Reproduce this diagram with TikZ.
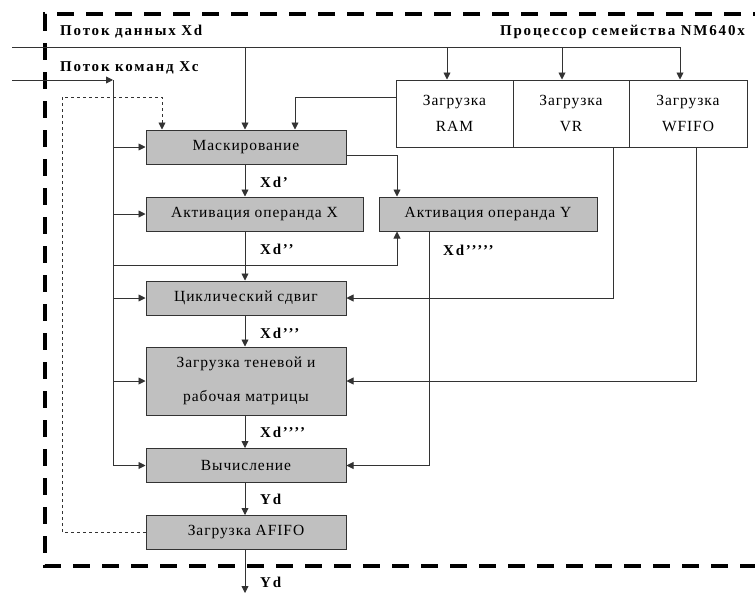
\documentclass[tikz,border=0pt]{standalone}
\usepackage{fontspec}
\setmainfont{Liberation Serif}
\newfontfamily\boxfont[LetterSpace=6]{Liberation Serif}
\newfontfamily\lblfont[LetterSpace=12]{Liberation Serif}
\usetikzlibrary{arrows.meta}
\definecolor{boxgray}{HTML}{C0C0C0}
\definecolor{linegray}{HTML}{333333}
\begin{document}
\begin{tikzpicture}[x=1pt,y=-1pt,
  conn/.style={draw=linegray,line width=0.9pt},
  arr/.style={conn,-{Triangle[length=7pt,width=7pt]}},
  gbox/.style={draw=linegray,fill=boxgray,line width=1pt,minimum width=200pt,minimum height=34pt,inner sep=0pt,font=\boxfont\fontsize{15.5}{16}\selectfont},
  wbox/.style={draw=linegray,fill=white,line width=1pt,minimum height=67pt,inner sep=0pt,align=center,font=\boxfont\fontsize{15.5}{26}\selectfont},
  lbl/.style={font=\lblfont\bfseries\fontsize{15}{16}\selectfont,inner sep=0pt},
  frame/.style={line width=3.5pt,dash pattern=on 17pt off 12pt}]
\useasboundingbox (0,0) rectangle (755,595);
% frame
\draw[frame] (770,14) -- (45,14) -- (45,566) -- (770,566);
% boxes
\node[gbox] (mask) at (246,147) {Маскирование};
\node[gbox,minimum width=217pt] (ax) at (254.5,214) {Активация операнда X};
\node[gbox,minimum width=218pt] (ay) at (488,214) {Активация операнда Y};
\node[gbox] (cyc) at (246,298) {Циклический сдвиг};
\node[gbox,minimum height=68pt,align=center,font=\boxfont\fontsize{15.5}{34}\selectfont] (mat) at (246,381) {Загрузка теневой и\\рабочая матрицы};
\node[gbox] (calc) at (246,465.5) {Вычисление};
\node[gbox] (afifo) at (246,532.5) {Загрузка AFIFO};
\node[wbox,minimum width=117pt] (ram) at (454.5,113.5) {Загрузка\\RAM};
\node[wbox,minimum width=116pt] (vr) at (571,113.5) {Загрузка\\VR};
\node[wbox,minimum width=118pt] (wf) at (688,113.5) {Загрузка\\WFIFO};
% labels
\node[lbl,anchor=west] (tdata) at (60,32) {Поток данных Xd};
\node[lbl,anchor=west] (tcmd) at (60,68) {Поток команд Xc};
\node[lbl,anchor=east] (tproc) at (745,32) {Процессор семейства NM640x};
\node[lbl,anchor=west] (l1) at (260,182) {Xd’};
\node[lbl,anchor=west] (l2) at (260,249) {Xd’’};
\node[lbl,anchor=west] (l3) at (260,333) {Xd’’’};
\node[lbl,anchor=west] (l4) at (260,432) {Xd’’’’};
\node[lbl,anchor=west] (l5) at (443,250) {Xd’’’’’};
\node[lbl,anchor=west] (l6) at (260,499) {Yd};
\node[lbl,anchor=west] (l7) at (260,582) {Yd};
% coordinates
\coordinate (din) at (12,47);
\coordinate (cin) at (12,80);
\coordinate (bus) at (113,80);
\coordinate (dm) at (245,47);
\coordinate (dram) at (447,47);
\coordinate (dvr) at (562,47);
\coordinate (dwf) at (680,47);
\coordinate (out) at (245,593);
% data flow
\draw[conn] (din) -- (dwf);
\draw[arr] (dwf) -- (dwf |- wf.north);
\draw[arr] (dram) -- (dram |- ram.north);
\draw[arr] (dvr) -- (dvr |- vr.north);
\draw[arr] (dm) -- (dm |- mask.north);
% command flow
\draw[arr] (cin) -- (bus);
\draw[arr] (bus) |- (calc.west);
\draw[arr] (bus |- mask.west) -- (mask.west);
\draw[arr] (bus |- ax.west) -- (ax.west);
\draw[arr] (bus |- cyc.west) -- (cyc.west);
\draw[arr] (bus |- mat.west) -- (mat.west);
\coordinate (yb) at (113,265);
\coordinate (yc) at (397,265);
\draw[arr] (yb) -- (yc) -- (yc |- ay.south);
% feedback dashed
\coordinate (fb1) at (62,532.5);
\coordinate (fb2) at (62,97);
\coordinate (fb3) at (162,97);
\draw[arr,dashed] (afifo.west) -- (fb1) -- (fb2) -- (fb3) -- (fb3 |- mask.north);
% RAM to mask
\coordinate (rm) at (295,97);
\draw[arr] (ram.west |- rm) -- (rm) -- (rm |- mask.north);
% mask to Y
\coordinate (my) at (397,155);
\draw[arr] (mask.east |- my) -- (my) -- (my |- ay.north);
% VR to cyc
\coordinate (vrx) at (613,147);
\draw[arr] (vrx |- vr.south) |- (cyc.east);
% WFIFO to mat
\coordinate (wfx) at (696,147);
\draw[arr] (wfx |- wf.south) |- (mat.east);
% Y to calc
\coordinate (ayx) at (429,231);
\draw[arr] (ayx |- ay.south) |- (calc.east);
% main flow
\draw[arr] (dm |- mask.south) -- (dm |- ax.north);
\draw[arr] (dm |- ax.south) -- (dm |- cyc.north);
\draw[arr] (dm |- cyc.south) -- (dm |- mat.north);
\draw[arr] (dm |- mat.south) -- (dm |- calc.north);
\draw[arr] (dm |- calc.south) -- (dm |- afifo.north);
\draw[arr] (dm |- afifo.south) -- (out);
\end{tikzpicture}
\end{document}
